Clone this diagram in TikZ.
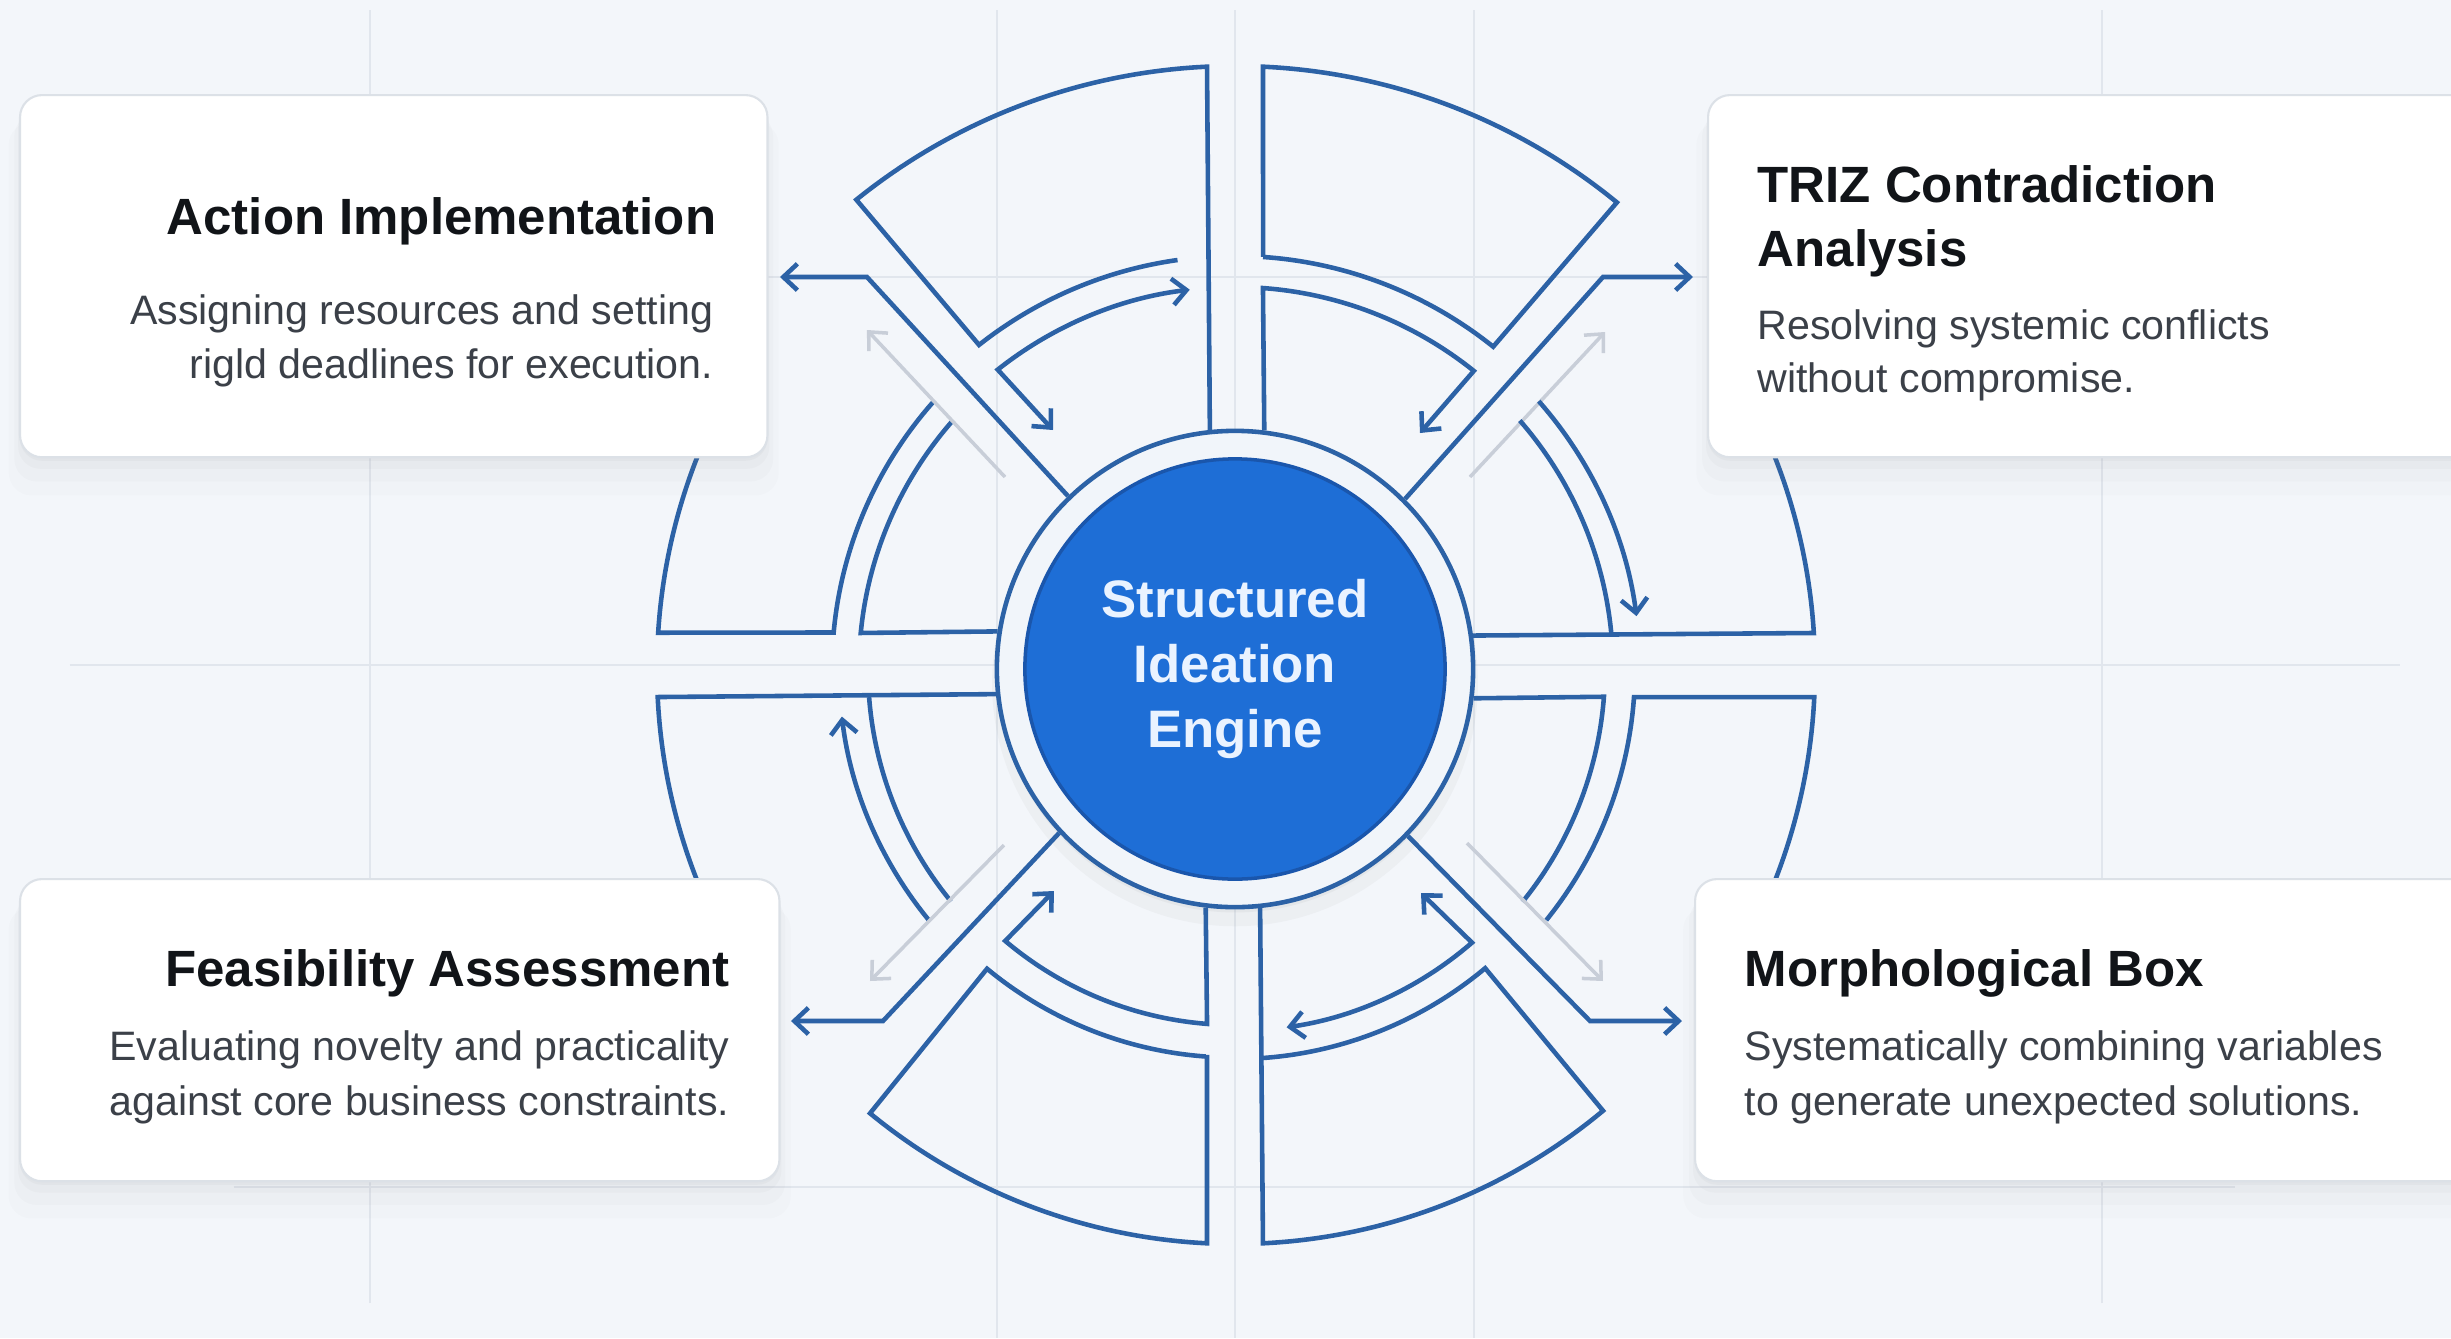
\documentclass[tikz,border=0pt]{standalone}
\usepackage{fontspec}
\setmainfont{Liberation Sans}
\usetikzlibrary{arrows.meta,shadows}

\definecolor{bgc}{HTML}{F3F6FA}
\definecolor{gridc}{HTML}{E1E6ED}
\definecolor{lineblue}{HTML}{2C62A6}
\definecolor{ghostgray}{HTML}{C8CED8}
\definecolor{ringc}{HTML}{F1F5FA}
\definecolor{hubc}{HTML}{1E6ED6}
\definecolor{hubedge}{HTML}{1A56AC}
\definecolor{hubtext}{HTML}{EAF3FF}
\definecolor{cardedge}{HTML}{DCE1E7}
\definecolor{titlec}{HTML}{111418}
\definecolor{bodyc}{HTML}{3B4048}

\tikzset{
  wire/.style={draw=lineblue, line width=1.3pt},
  wirearr/.style={arrows={-Straight Barb[length=4pt,width=7.5pt]}},
  wirebi/.style={arrows={Straight Barb[length=4pt,width=7.5pt]-Straight Barb[length=4pt,width=7.5pt]}},
  ghost/.style={draw=ghostgray, line width=1pt, wirearr},
  gridline/.style={draw=gridc, line width=0.6pt},
  card/.style={draw=cardedge, line width=0.6pt, fill=white, rounded corners=0.22cm,
    drop shadow={opacity=0.025, shadow xshift=0pt, shadow yshift=-9pt, shadow scale=1.03},
    drop shadow={opacity=0.03, shadow xshift=0pt, shadow yshift=-6pt, shadow scale=1.015},
    drop shadow={opacity=0.04, shadow xshift=0pt, shadow yshift=-3pt, shadow scale=1.005},
    drop shadow={opacity=0.05, shadow xshift=0pt, shadow yshift=-1pt}},
  ttl/.style={inner sep=0pt, text=titlec, font=\bfseries\fontsize{14.5}{17}\selectfont},
  bdy/.style={inner sep=0pt, text=bodyc, font=\fontsize{11.7}{15.6}\selectfont},
}

\begin{document}
\begin{tikzpicture}[x=0.01cm, y=0.01cm,
    ring/.style={circle, draw=lineblue, line width=1.3pt, fill=ringc, minimum size=4.76cm,
      drop shadow={opacity=0.06, shadow xshift=0pt, shadow yshift=-4pt, shadow scale=1.02},
      drop shadow={opacity=0.08, shadow xshift=0pt, shadow yshift=-1.5pt}},
    hub/.style={circle, draw=hubedge, line width=1pt, fill=hubc, minimum size=4.2cm,
      text=hubtext, align=center, font=\bfseries\fontsize{15}{18.4}\selectfont}]
  \fill[bgc] (-1235,-669) rectangle (1216,669);
  \useasboundingbox (-1235,-669) rectangle (1216,669);

  % grid
  \foreach \gx in {-238,0,239} \draw[gridline] (\gx,-669) -- (\gx,659);
  \foreach \gx in {-865,867} \draw[gridline] (\gx,-634) -- (\gx,659);
  \draw[gridline] (-1165,4) -- (1165,4);
  \foreach \gy in {392,-518} \draw[gridline] (-1001,\gy) -- (1000,\gy);

  \node[ring] (ring) at (0,0) {};
  \node[hub] (hub) at (0,0) {Structured\\Ideation\\Engine};

  % upper left
  \draw[wire] (155:578) arc[start angle=155,end angle=176.4,radius=578] -- (174.8:403) arc[start angle=174.8,end angle=138.5,radius=403];
  \draw[wire] (138.8:376) arc[start angle=138.8,end angle=174.5,radius=376] -- (ring.171.3);
  \draw[wire, wirearr] (ring.134.6) -- (-368,392) -- (-455,392);
  \draw[ghost] (-230,192) -- (-368,339);
  \draw[wire] (ring.96.75) -- (92.66:603) arc[start angle=92.66,end angle=128.9,radius=603] -- (128.3:413) arc[start angle=128.3,end angle=98,radius=413];
  \draw[wire, wirebi] (-182,239) -- (128.4:382) arc[start angle=128.4,end angle=96.8,radius=382];

  % upper right
  \draw[wire] (86.1:413) -- (87.34:603) arc[start angle=87.34,end angle=50.7,radius=603] -- (51.3:413) arc[start angle=51.3,end angle=86.1,radius=413];
  \draw[wire, wirearr] (ring.83.25) -- (85.8:382) arc[start angle=85.8,end angle=51.3,radius=382] -- (185,236);
  \draw[wire, wirearr] (ring.45.4) -- (368,392) -- (458,392);
  \draw[ghost] (235,192) -- (370,337);
  \draw[wire] (41.1:378) arc[start angle=41.1,end angle=5.5,radius=378];
  \draw[wire, wirearr] (41.4:405) arc[start angle=41.4,end angle=7.5,radius=405];
  \draw[wire] (25:580) arc[start angle=25,end angle=3.56,radius=580] -- (ring.8.7);

  % lower left
  \draw[wire] (205:578) arc[start angle=205,end angle=182.78,radius=578] -- (ring.186.75);
  \draw[wire] (184.4:367) arc[start angle=184.4,end angle=219.3,radius=367];
  \draw[wire, wirearr] (219.5:396) arc[start angle=219.5,end angle=186.9,radius=396];
  \draw[wire, wirearr] (ring.223.6) -- (-352,-352) -- (-444,-352);
  \draw[ghost] (-231,-176) -- (-365,-312);
  \draw[wire] (265.85:387) -- (267.21:575) arc[start angle=267.21,end angle=230.6,radius=575] -- (230.4:389) arc[start angle=230.4,end angle=265.85,radius=387];
  \draw[wire, wirearr] (ring.263.25) -- (265.5:356) arc[start angle=265.5,end angle=229.8,radius=356] -- (-181,-222);

  % lower right
  \draw[wire] (ring.353.25) -- (355.7:370) arc[start angle=355.7,end angle=321,radius=370];
  \draw[wire] (335:580) arc[start angle=335,end angle=357.23,radius=580] -- (355.98:400) arc[start angle=355.98,end angle=321.1,radius=400];
  \draw[wire, wirearr] (ring.316.4) -- (355,-352) -- (447,-352);
  \draw[ghost] (232,-174) -- (368,-312);
  \draw[wire] (ring.276.76) -- (272.79:575) arc[start angle=272.79,end angle=309.8,radius=575] -- (309.9:390) arc[start angle=309.9,end angle=274.12,radius=390];
  \draw[wire, wirebi] (186,-224) -- (310.9:362) arc[start angle=310.9,end angle=278.2,radius=362];

  % cards
  \node[card, anchor=north west, minimum width=7.47cm, minimum height=3.62cm] (act) at (-1216,575) {};
  \node[card, anchor=north west, minimum width=7.8cm, minimum height=3.62cm] (triz) at (472,575) {};
  \node[card, anchor=north west, minimum width=7.59cm, minimum height=3.02cm] (feas) at (-1216,-209) {};
  \node[card, anchor=north west, minimum width=7.9cm, minimum height=3.02cm] (morph) at (459,-209) {};

  \node[ttl, anchor=base east] (actT) at (-518,435) {Action Implementation};
  \node[bdy, anchor=base east] (actA) at (-521,345) {Assigning resources and setting};
  \node[bdy, anchor=base east] (actB) at ([yshift=-0.54cm]actA.base east) {rigld deadlines for execution.};

  \node[ttl, anchor=base west] (trizT) at (522,467) {TRIZ Contradiction};
  \node[ttl, anchor=base west] (trizU) at ([yshift=-0.64cm]trizT.base west) {Analysis};
  \node[bdy, anchor=base west] (trizA) at (522,330) {Resolving systemic conflicts};
  \node[bdy, anchor=base west] (trizB) at ([yshift=-0.53cm]trizA.base west) {without compromise.};

  \node[ttl, anchor=base east] (feasT) at (-505,-317) {Feasibility Assessment};
  \node[bdy, anchor=base east] (feasA) at (-505,-391) {Evaluating novelty and practicality};
  \node[bdy, anchor=base east] (feasB) at ([yshift=-0.55cm]feasA.base east) {against core business constraints.};

  \node[ttl, anchor=base west] (morphT) at (509,-317) {Morphological Box};
  \node[bdy, anchor=base west] (morphA) at (509,-391) {Systematically combining variables};
  \node[bdy, anchor=base west] (morphB) at ([yshift=-0.55cm]morphA.base west) {to generate unexpected solutions.};
\end{tikzpicture}
\end{document}
